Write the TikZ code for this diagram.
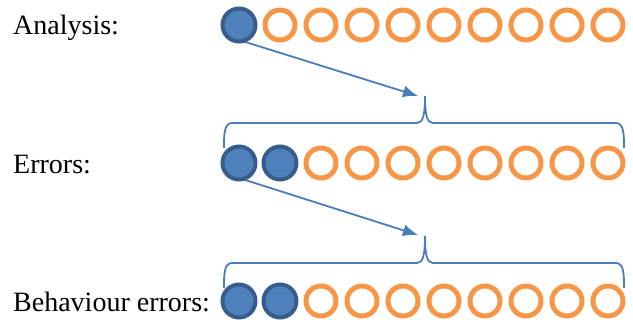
\documentclass[tikz,border=0pt]{standalone}
\usepackage{fontspec}
\setmainfont{Liberation Serif}
\usetikzlibrary{arrows.meta}
\definecolor{bfill}{HTML}{4F81BD}
\definecolor{bdraw}{HTML}{385D8A}
\definecolor{orng}{HTML}{F79646}
\definecolor{lblue}{HTML}{4A7EBB}
\tikzset{
  ocirc/.style={circle,draw=orng,line width=5pt,fill=white,minimum size=30pt,inner sep=0pt},
  bcirc/.style={circle,draw=bdraw,line width=4pt,fill=bfill,minimum size=33pt,inner sep=0pt},
  lbl/.style={anchor=base west,inner sep=0pt,font=\fontsize{28}{32}\selectfont},
  conn/.style={draw=lblue,line width=1.8pt,-{Latex[length=15pt,width=12pt]}},
  brace/.style={draw=lblue,line width=1.8pt}
}
\begin{document}
\begin{tikzpicture}[x=1pt,y=-1pt]
\useasboundingbox (0,0) rectangle (633,320);
% labels
\node[lbl] (l1) at (13,35) {Analysis:};
\node[lbl] (l2) at (13,174) {Errors:};
\node[lbl] (l3) at (13,312) {Behaviour errors:};
% arrow tips and brace tips
\coordinate (t1) at (418,96);
\coordinate (t2) at (418,235);
% arrows (behind circles)
\coordinate (s1) at (239,40);
\coordinate (s2) at (239,178);
\draw[conn] (s1) -- (t1);
\draw[conn] (s2) -- (t2);
% row 1
\node[bcirc] (a1) at (239,25) {};
\foreach \i in {2,...,10} {
  \node[ocirc] (a\i) at ({239+41*(\i-1)},25) {};
}
% row 2
\foreach \i in {1,2} {
  \node[bcirc] (b\i) at ({239+41*(\i-1)},163) {};
}
\foreach \i in {3,...,10} {
  \node[ocirc] (b\i) at ({239+41*(\i-1)},163) {};
}
% row 3
\foreach \i in {1,2} {
  \node[bcirc] (c\i) at ({239+41*(\i-1)},301) {};
}
\foreach \i in {3,...,10} {
  \node[ocirc] (c\i) at ({239+41*(\i-1)},301) {};
}
% braces
\foreach \y/\n in {123/1,263/2} {
  \draw[brace] (224,\y+25) .. controls (224,\y+12) and (224,\y) .. (232,\y)
    -- (417,\y) .. controls (423,\y) and (425,\y-8) .. (425,\y-27)
    .. controls (425,\y-8) and (427,\y) .. (433,\y)
    -- (616,\y) .. controls (624,\y) and (624,\y+12) .. (624,\y+25);
}
\end{tikzpicture}
\end{document}
